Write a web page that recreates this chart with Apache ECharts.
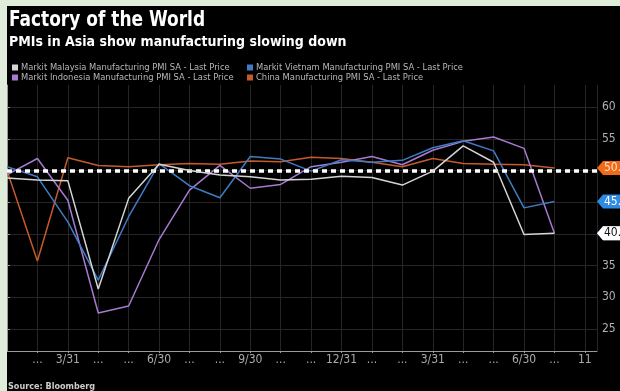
<!DOCTYPE html>
<html>
<head>
<meta charset="utf-8">
<script src="https://cdn.jsdelivr.net/npm/echarts@6/dist/echarts.min.js"></script>
<style>
  html, body { margin: 0; padding: 0; width: 620px; height: 391px; overflow: hidden; background: #dfecd9; }
  #chart { position: absolute; left: 7px; top: 6px; width: 613px; height: 385px; background: #000; }
</style>
</head>
<body>
<div id="chart"></div>
<script>
// Month-end tick labels, Jan 2020 .. Aug 2021 (one tick per month)
const tickLabels = ['', '...', '3/31', '...', '...', '6/30', '...', '...', '9/30', '...', '...',
  '12/31', '...', '...', '3/31', '...', '...', '6/30', '...', '11'];

// Monthly manufacturing PMI readings, Jan 2020 .. Jul 2021
const malaysia  = [48.8, 48.5, 48.4, 31.3, 45.6, 51.0, 50.0, 49.3, 49.0, 48.5, 48.6, 49.1, 48.9, 47.7, 49.9, 53.9, 51.3, 39.9, 40.1];
const vietnam   = [50.6, 49.0, 41.9, 32.7, 42.7, 51.1, 47.6, 45.7, 52.2, 51.8, 49.9, 51.7, 51.3, 51.6, 53.6, 54.7, 53.1, 44.1, 45.1];
const indonesia = [49.3, 51.9, 45.3, 27.5, 28.6, 39.1, 46.9, 50.8, 47.2, 47.8, 50.6, 51.3, 52.2, 50.9, 53.2, 54.6, 55.3, 53.5, 40.1];
const china     = [50.0, 35.7, 52.0, 50.8, 50.6, 50.9, 51.1, 51.0, 51.5, 51.4, 52.1, 51.9, 51.3, 50.6, 51.9, 51.1, 51.0, 50.9, 50.4];

const yTicks = [25, 30, 35, 40, 45, 50, 55, 60];

const names = {
  my: 'Markit Malaysia Manufacturing PMI SA - Last Price',
  vn: 'Markit Vietnam Manufacturing PMI SA - Last Price',
  id: 'Markit Indonesia Manufacturing PMI SA - Last Price',
  cn: 'China Manufacturing PMI SA - Last Price'
};

const FONT = '"Liberation Sans Narrow", "DejaVu Sans Condensed", "Liberation Sans", sans-serif';
const X_MAX = 19.4;

function pairs(arr) { return arr.map((v, i) => [i, v]); }

// Price tag at the right axis showing the latest value
function endTag(arr, fill, textColor) {
  const last = arr[arr.length - 1];
  return {
    silent: true,
    animation: false,
    symbol: 'path://M0,7 L6,0 L40,0 L40,14 L6,14 Z',
    symbolSize: [40, 14],
    symbolKeepAspect: false,
    symbolOffset: [20, 0],
    itemStyle: { color: fill },
    label: {
      show: true,
      position: [7, 7],
      verticalAlign: 'middle',
      align: 'left',
      formatter: last.toFixed(1),
      color: textColor,
      fontFamily: FONT,
      fontSize: 12
    },
    data: [{ coord: [X_MAX, last] }]
  };
}

function lineSeries(name, arr, color, tagFill, tagText, z) {
  return {
    name: name,
    type: 'line',
    data: pairs(arr),
    symbol: 'none',
    z: z,
    lineStyle: { color: color, width: 1.5 },
    itemStyle: { color: color },
    markPoint: endTag(arr, tagFill, tagText)
  };
}

const chart = echarts.init(document.getElementById('chart'), null, { renderer: 'canvas' });

const series = [
  lineSeries(names.cn, china, '#c65a2c', '#f06a17', '#ffe0c8', 2),
  lineSeries(names.id, indonesia, '#a67ad0', '#b784e0', '#ffffff', 3),
  lineSeries(names.vn, vietnam, '#3f7cc4', '#2f8ae6', '#ffffff', 4),
  lineSeries(names.my, malaysia, '#d4d4d4', '#ffffff', '#111111', 5)
];

// Dashed reference line at the 50 expansion threshold
series[0].markLine = {
  silent: true,
  animation: false,
  symbol: 'none',
  label: { show: false },
  lineStyle: { color: '#ffffff', width: 3.5, type: [5, 4] },
  data: [{ yAxis: 50 }]
};

const legendText = { color: '#b8b8b8', fontFamily: FONT, fontSize: 9.3, padding: [0, 0, 0, -2] };

chart.setOption({
  animation: false,
  backgroundColor: '#000',
  legend: [
    {
      data: [names.my, names.id],
      orient: 'vertical',
      left: 0, top: 52,
      itemWidth: 6, itemHeight: 6, itemGap: 1,
      icon: 'rect',
      textStyle: legendText,
      selectedMode: false
    },
    {
      data: [names.vn, names.cn],
      orient: 'vertical',
      left: 235, top: 52,
      itemWidth: 6, itemHeight: 6, itemGap: 1,
      icon: 'rect',
      textStyle: legendText,
      selectedMode: false
    }
  ],
  grid: { left: 0, right: 23, top: 79, bottom: 40, containLabel: false },
  xAxis: {
    type: 'value',
    min: 0,
    max: X_MAX,
    interval: 1,
    axisLine: { show: true, lineStyle: { color: '#9a9a9a', width: 1 } },
    axisTick: { show: true, length: 2, lineStyle: { color: '#9a9a9a' } },
    splitLine: { show: true, lineStyle: { color: '#262626', width: 1 } },
    axisLabel: {
      color: '#aaaaaa',
      fontFamily: FONT,
      fontSize: 12,
      margin: 3,
      showMinLabel: false,
      showMaxLabel: false,
      formatter: v => (Number.isInteger(v) ? tickLabels[v] : '')
    }
  },
  yAxis: {
    type: 'value',
    position: 'right',
    min: 21.5,
    max: 63.5,
    axisLine: { show: true, lineStyle: { color: '#9a9a9a', width: 1 } },
    axisTick: { show: true, length: 3, inside: false, customValues: yTicks, lineStyle: { color: '#9a9a9a' } },
    splitLine: { show: true, lineStyle: { color: '#262626', width: 1 } },
    axisLabel: {
      customValues: yTicks,
      color: '#b0b0b0',
      fontFamily: FONT,
      fontSize: 12,
      margin: 5
    }
  },
  graphic: [
    {
      type: 'text',
      left: 2,
      top: 4,
      scaleX: 0.9,
      style: { text: 'Factory of the World', fill: '#ffffff', font: 'bold 21px ' + FONT }
    },
    {
      type: 'text',
      left: 2,
      top: 29,
      style: { text: 'PMIs in Asia show manufacturing slowing down', fill: '#ffffff', font: 'bold 14px ' + FONT }
    },
    {
      type: 'text',
      left: 1,
      top: 376,
      style: { text: 'Source: Bloomberg', fill: '#cccccc', font: 'bold 9px ' + FONT }
    }
  ],
  series: series
});
</script>
</body>
</html>
